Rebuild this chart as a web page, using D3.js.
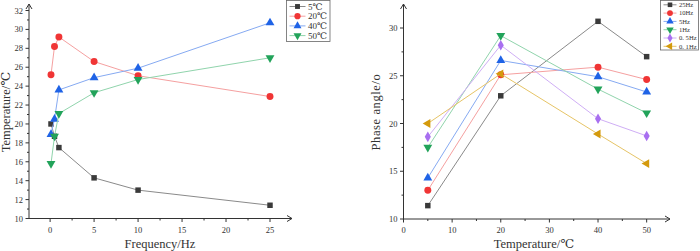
<!DOCTYPE html>
<html>
<head>
<meta charset="utf-8">
<script src="https://cdn.jsdelivr.net/npm/d3@7"></script>
<style>
  body { margin: 0; background: #fff; }
  svg { display: block; font-family: "Liberation Serif", "DejaVu Serif", serif; }
</style>
</head>
<body>
<svg width="700" height="251"></svg>
<script>
// left chart: temperature vs frequency
var freqs = [0.1, 0.5, 1, 5, 10, 25];
var tempNames = ["5℃", "20℃", "40℃", "50℃"];
var t5 = [20.0, 18.7, 17.5, 14.3, 13.0, 11.4];
var t20 = [25.2, 28.2, 29.2, 26.6, 25.1, 22.9];
var t40 = [18.9, 20.5, 23.6, 24.9, 25.9, 30.7];
var t50 = [15.8, 18.7, 21.1, 23.3, 24.7, 27.0];
var leftTicksX = [0, 5, 10, 15, 20, 25];
var leftTicksY = [10, 12, 14, 16, 18, 20, 22, 24, 26, 28, 30, 32];

// right chart: phase angle vs temperature
var temps = [5, 20, 40, 50];
var freqNames = ["25Hz", "10Hz", "5Hz", "1Hz", "0. 5Hz", "0. 1Hz"];
var p25 = [11.4, 22.9, 30.7, 27.0];
var p10 = [13.0, 25.1, 25.9, 24.6];
var p5 = [14.3, 26.6, 24.9, 23.3];
var p1 = [17.5, 29.2, 23.6, 21.1];
var p05 = [18.6, 28.2, 20.5, 18.7];
var p01 = [20.0, 25.2, 18.9, 15.8];
var rightTicksX = [0, 10, 20, 30, 40, 50];
var rightTicksY = [10, 15, 20, 25, 30];

var svg = d3.select("svg");
var axisColor = "#333";

var styles = [
  {mark: "#3a3a3a", line: "#8a8a8a", sym: d3.symbolSquare, size: 30, rot: 0},
  {mark: "#f03535", line: "#f5a0a0", sym: d3.symbolCircle, size: 38, rot: 0},
  {mark: "#1f63e6", line: "#86aaf2", sym: d3.symbolTriangle, size: 34, rot: 0},
  {mark: "#22a35a", line: "#90d4ac", sym: d3.symbolTriangle, size: 34, rot: 180},
  {mark: "#a86ff0", line: "#cfaef5", sym: d3.symbolDiamond, size: 32, rot: 0},
  {mark: "#d49a0c", line: "#e6c466", sym: d3.symbolTriangle, size: 34, rot: -90}
];

function drawPanel(o) {
  var g = svg.append("g");
  var x = o.x, y = o.y;
  var x0 = x.range()[0], x1 = x.range()[1];
  var yb = y(o.yMin), yt = o.yTop;

  // axes lines with arrows
  g.append("line").attr("x1", x0).attr("x2", x1).attr("y1", yb).attr("y2", yb)
    .attr("stroke", axisColor).attr("stroke-width", 1);
  g.append("path").attr("d", `M${x1 - 5},${yb - 3}L${x1},${yb}L${x1 - 5},${yb + 3}`)
    .attr("fill", "none").attr("stroke", axisColor);
  g.append("line").attr("x1", x0).attr("x2", x0).attr("y1", yb).attr("y2", yt)
    .attr("stroke", axisColor).attr("stroke-width", 1);
  g.append("path").attr("d", `M${x0 - 3},${yt + 5}L${x0},${yt}L${x0 + 3},${yt + 5}`)
    .attr("fill", "none").attr("stroke", axisColor);

  // x ticks
  g.selectAll(".xt").data(o.ticksX).join("line")
    .attr("x1", d => x(d)).attr("x2", d => x(d)).attr("y1", yb).attr("y2", yb + 3.5)
    .attr("stroke", axisColor);
  g.selectAll(".xm").data(o.minorX).join("line")
    .attr("x1", d => x(d)).attr("x2", d => x(d)).attr("y1", yb).attr("y2", yb + 2)
    .attr("stroke", axisColor);
  g.selectAll(".xl").data(o.ticksX).join("text")
    .attr("x", d => x(d)).attr("y", yb + 14).attr("text-anchor", "middle")
    .attr("font-size", 8.5).attr("fill", "#333").text(d => d);

  // y ticks
  g.selectAll(".yt").data(o.ticksY).join("line")
    .attr("x1", x0 - 3.5).attr("x2", x0).attr("y1", d => y(d)).attr("y2", d => y(d))
    .attr("stroke", axisColor);
  g.selectAll(".ym").data(o.minorY).join("line")
    .attr("x1", x0 - 2).attr("x2", x0).attr("y1", d => y(d)).attr("y2", d => y(d))
    .attr("stroke", axisColor);
  g.selectAll(".yl").data(o.ticksY).join("text")
    .attr("x", x0 - 6).attr("y", d => y(d) + 3).attr("text-anchor", "end")
    .attr("font-size", 8.5).attr("fill", "#333").text(d => d);

  // titles
  g.append("text").attr("x", o.xTitlePos[0]).attr("y", o.xTitlePos[1])
    .attr("text-anchor", "middle").attr("font-size", 12.5).attr("fill", "#333")
    .text(o.xTitle);
  g.append("text")
    .attr("transform", `translate(${o.yTitlePos[0]},${o.yTitlePos[1]}) rotate(-90)`)
    .attr("text-anchor", "middle").attr("font-size", 12.5).attr("fill", "#333")
    .attr("letter-spacing", o.yTitleSpacing || 0)
    .text(o.yTitle);

  // series
  var line = d3.line().x(d => x(d[0])).y(d => y(d[1]));
  o.series.forEach(function(vals, i) {
    var st = styles[i];
    var pts = o.xs.map((v, j) => [v, vals[j]]);
    g.append("path").datum(pts).attr("d", line)
      .attr("fill", "none").attr("stroke", st.line).attr("stroke-width", 1);
    g.selectAll(null).data(pts).join("path")
      .attr("d", d3.symbol().type(st.sym).size(st.size))
      .attr("transform", d => `translate(${x(d[0])},${y(d[1])}) rotate(${st.rot})`)
      .attr("fill", st.mark);
  });

  // legend
  var L = o.legend;
  var lg = g.append("g");
  lg.append("rect").attr("x", L.x).attr("y", L.y).attr("width", L.w).attr("height", L.h)
    .attr("fill", "#fff").attr("stroke", "#666").attr("stroke-width", 0.8);
  o.names.forEach(function(name, i) {
    var st = styles[i];
    var cy = L.y + L.first + i * L.step;
    lg.append("line").attr("x1", L.x + 3).attr("x2", L.x + L.lineW).attr("y1", cy).attr("y2", cy)
      .attr("stroke", st.line).attr("stroke-width", 1);
    lg.append("path").attr("d", d3.symbol().type(st.sym).size(st.size * L.symScale))
      .attr("transform", `translate(${L.x + 3 + (L.lineW - 3) / 2},${cy}) rotate(${st.rot})`)
      .attr("fill", st.mark);
    lg.append("text").attr("x", L.x + L.lineW + 2.5).attr("y", cy + L.fs * 0.35)
      .attr("font-size", L.fs).attr("fill", "#333").text(name);
  });
}

drawPanel({
  x: d3.scaleLinear().domain([-2.4, 27.5]).range([29, 292]),
  y: d3.scaleLinear().domain([10, 32]).range([218.5, 10.5]),
  yMin: 10, yTop: 4,
  ticksX: leftTicksX, minorX: [2.5, 7.5, 12.5, 17.5, 22.5],
  ticksY: leftTicksY, minorY: d3.range(11, 33, 2),
  xTitle: "Frequency/Hz", xTitlePos: [160, 248],
  yTitle: "Temperature/℃", yTitlePos: [10, 112],
  xs: freqs, series: [t5, t20, t40, t50], names: tempNames,
  legend: {x: 286.5, y: 0.5, w: 43.5, h: 41, first: 6, step: 9.7, lineW: 19, fs: 9, symScale: 0.8}
});

drawPanel({
  x: d3.scaleLinear().domain([0, 54.8]).range([403.5, 670]),
  y: d3.scaleLinear().domain([10, 30]).range([219, 28]),
  yMin: 10, yTop: 4,
  ticksX: rightTicksX, minorX: [5, 15, 25, 35, 45],
  ticksY: rightTicksY, minorY: [12.5, 17.5, 22.5, 27.5],
  xTitle: "Temperature/℃", xTitlePos: [534, 248],
  yTitle: "Phase angle/o", yTitlePos: [380, 112], yTitleSpacing: 0.6,
  xs: temps, series: [p25, p10, p5, p1, p05, p01], names: freqNames,
  legend: {x: 660.5, y: 0.5, w: 38, h: 49.5, first: 4.3, step: 8.3, lineW: 16, fs: 6.6, symScale: 0.7}
});
</script>
</body>
</html>
